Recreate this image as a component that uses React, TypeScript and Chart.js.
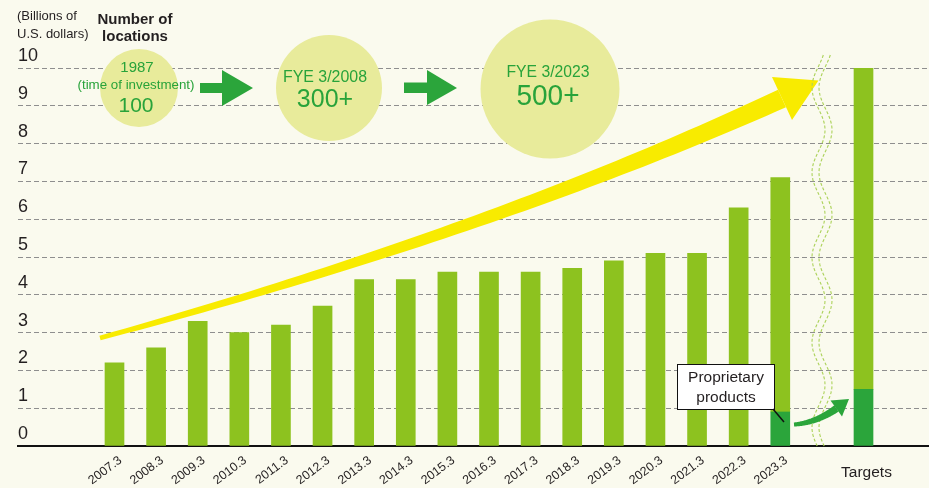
import React, { useEffect, useRef } from 'react';
import { Chart, registerables } from 'chart.js';

Chart.register(...registerables);

// ---------- data ----------
const categories = [
  '2007.3', '2008.3', '2009.3', '2010.3', '2011.3', '2012.3', '2013.3', '2014.3', '2015.3',
  '2016.3', '2017.3', '2018.3', '2019.3', '2020.3', '2021.3', '2022.3', '2023.3', '', 'Targets',
];
const totalSales: (number | null)[] = [
  2.2, 2.6, 3.3, 3.0, 3.2, 3.7, 4.4, 4.4, 4.6, 4.6, 4.6, 4.7, 4.9, 5.1, 5.1, 6.3, 7.1, null, 10.0,
];
const proprietarySales: (number | null)[] = [
  null, null, null, null, null, null, null, null, null, null, null, null, null, null, null, null, 0.9, null, 1.5,
];
const yTickValues = [0, 1, 2, 3, 4, 5, 6, 7, 8, 9, 10];
const unitLabel = ['(Billions of', 'U.S. dollars)'];
const locationsHeader = ['Number of', 'locations'];
const milestoneTitles = ['1987', 'FYE 3/2008', 'FYE 3/2023'];
const milestoneNotes = ['(time of investment)', '', ''];
const milestoneCounts = ['100', '300+', '500+'];
const calloutLines = ['Proprietary', 'products'];
const targetsLabel = 'Targets';

// ---------- styles ----------
const FONT = '"Liberation Sans", Arial, Helvetica, sans-serif';
const BG = '#fafaee';
const LIGHT_GREEN = '#8dc21f';
const DARK_GREEN = '#2ba53b';
const TEXT_GREEN = '#28a33a';
const CIRCLE = '#e8eb9b';
const YELLOW = '#f8eb00';
const WAVE = '#acd25a';
const INK = '#231f20';

function txt(ctx: CanvasRenderingContext2D, s: string, x: number, y: number, font: string, color: string, align: CanvasTextAlign = 'center', maxW?: number, baseline: CanvasTextBaseline = 'middle') {
  ctx.font = font;
  ctx.fillStyle = color;
  ctx.textAlign = align;
  ctx.textBaseline = baseline;
  if (maxW) {
    const w = ctx.measureText(s).width;
    if (w > maxW) {
      ctx.fillText(s, x, y, maxW);
      return;
    }
  }
  ctx.fillText(s, x, y);
}

function taperedCurve(ctx: CanvasRenderingContext2D, p0: number[], c: number[], p2: number[], w0: number, w1: number) {
  const N = 60;
  const top: number[][] = [];
  const bot: number[][] = [];
  for (let i = 0; i <= N; i++) {
    const t = i / N;
    const x = (1 - t) * (1 - t) * p0[0] + 2 * t * (1 - t) * c[0] + t * t * p2[0];
    const y = (1 - t) * (1 - t) * p0[1] + 2 * t * (1 - t) * c[1] + t * t * p2[1];
    const dx = 2 * (1 - t) * (c[0] - p0[0]) + 2 * t * (p2[0] - c[0]);
    const dy = 2 * (1 - t) * (c[1] - p0[1]) + 2 * t * (p2[1] - c[1]);
    const len = Math.hypot(dx, dy) || 1;
    const nx = -dy / len;
    const ny = dx / len;
    const w = w0 + (w1 - w0) * t;
    top.push([x + nx * w, y + ny * w]);
    bot.push([x - nx * w, y - ny * w]);
  }
  ctx.beginPath();
  ctx.moveTo(top[0][0], top[0][1]);
  for (const p of top) ctx.lineTo(p[0], p[1]);
  for (let i = bot.length - 1; i >= 0; i--) ctx.lineTo(bot[i][0], bot[i][1]);
  ctx.closePath();
  ctx.fill();
}

function poly(ctx: CanvasRenderingContext2D, pts: number[][]) {
  ctx.beginPath();
  ctx.moveTo(pts[0][0], pts[0][1]);
  for (const p of pts.slice(1)) ctx.lineTo(p[0], p[1]);
  ctx.closePath();
  ctx.fill();
}

const overlayPlugin = {
  id: 'overlay',
  afterDatasetsDraw(chart: any) {
    const ctx: CanvasRenderingContext2D = chart.ctx;
    const xs = chart.scales.x;
    ctx.save();

    // header texts
    txt(ctx, unitLabel[0], 17, 20, `13px ${FONT}`, INK, 'left', 60, 'alphabetic');
    txt(ctx, unitLabel[1], 17, 37.5, `13px ${FONT}`, INK, 'left', 72, 'alphabetic');
    txt(ctx, locationsHeader[0], 135, 24, `bold 15px ${FONT}`, INK, 'center', 77, 'alphabetic');
    txt(ctx, locationsHeader[1], 135, 40.5, `bold 15px ${FONT}`, INK, 'center', 66, 'alphabetic');

    // circles
    ctx.fillStyle = CIRCLE;
    const circles = [[139, 88, 39], [329, 88, 53], [550, 89, 69.5]];
    for (const [cx, cy, r] of circles) {
      ctx.beginPath();
      ctx.arc(cx, cy, r, 0, Math.PI * 2);
      ctx.fill();
    }
    txt(ctx, milestoneTitles[0], 137, 67.5, `15px ${FONT}`, TEXT_GREEN);
    txt(ctx, milestoneNotes[0], 136, 85.5, `13.5px ${FONT}`, TEXT_GREEN, 'center', 117);
    txt(ctx, milestoneCounts[0], 136, 106, `21px ${FONT}`, TEXT_GREEN);
    txt(ctx, milestoneTitles[1], 325, 77.5, `16px ${FONT}`, TEXT_GREEN, 'center', 84);
    txt(ctx, milestoneCounts[1], 325, 100.5, `25px ${FONT}`, TEXT_GREEN, 'center', 57);
    txt(ctx, milestoneTitles[2], 548, 72.5, `16px ${FONT}`, TEXT_GREEN, 'center', 83);
    txt(ctx, milestoneCounts[2], 548, 97, `29px ${FONT}`, TEXT_GREEN, 'center', 63);

    // green straight arrows
    ctx.fillStyle = DARK_GREEN;
    poly(ctx, [[200, 83], [222, 83], [222, 70], [253, 88], [222, 106], [222, 93], [200, 93]]);
    poly(ctx, [[404, 82.5], [427, 82.5], [427, 70], [457, 88], [427, 105], [427, 93], [404, 93]]);

    // yellow growth arrow
    ctx.fillStyle = YELLOW;
    taperedCurve(ctx, [100, 338], [490, 232], [782, 98.5], 2.3, 9.6);
    poly(ctx, [[772, 77], [818.5, 80.5], [792, 120]]);

    // wavy break lines
    ctx.strokeStyle = WAVE;
    ctx.lineWidth = 1.1;
    ctx.setLineDash([3, 2]);
    for (const off of [0, 7]) {
      ctx.beginPath();
      for (let y = 55; y <= 447; y += 1) {
        const x = 818.5 + off + 6.5 * Math.cos((2 * Math.PI * (y - 45)) / 85);
        if (y === 55) ctx.moveTo(x, y);
        else ctx.lineTo(x, y);
      }
      ctx.stroke();
    }
    ctx.setLineDash([]);

    // callout box
    ctx.fillStyle = '#ffffff';
    ctx.fillRect(677.5, 364.5, 97, 45);
    ctx.strokeStyle = '#111';
    ctx.lineWidth = 1;
    ctx.strokeRect(677.5, 364.5, 97, 45);
    txt(ctx, calloutLines[0], 726, 378, `15.5px ${FONT}`, INK, 'center', 78);
    txt(ctx, calloutLines[1], 726, 397.5, `15.5px ${FONT}`, INK, 'center', 64);
    ctx.lineWidth = 1.5;
    ctx.beginPath();
    ctx.moveTo(773, 409);
    ctx.lineTo(784, 422);
    ctx.stroke();

    // curved green arrow
    ctx.fillStyle = DARK_GREEN;
    taperedCurve(ctx, [794, 424.5], [815.5, 423], [836.5, 408.5], 2, 3.8);
    poly(ctx, [[830.5, 400.5], [849, 399], [842, 416.5]]);

    // Targets label
    txt(ctx, targetsLabel, xs.getPixelForValue(18) + 3, 472.5, `15.5px ${FONT}`, INK);

    ctx.restore();
  },
};

export default function App() {
  const canvasRef = useRef<HTMLCanvasElement | null>(null);

  useEffect(() => {
    document.body.style.margin = '0';
    const canvas = canvasRef.current;
    if (!canvas) return;

    const darkData = proprietarySales.map((v, i) => ({ x: i, y: v }));
    const lightData = totalSales.map((v, i) => ({
      x: i,
      y: v == null ? null : v - (proprietarySales[i] ?? 0),
    }));

    const chart = new Chart(canvas, {
      type: 'bar',
      data: {
        datasets: [
          { label: 'Proprietary products', data: darkData as any, backgroundColor: DARK_GREEN, barThickness: 19, borderWidth: 0 },
          { label: 'Total', data: lightData as any, backgroundColor: LIGHT_GREEN, barThickness: 19, borderWidth: 0 },
        ],
      },
      options: {
        responsive: false,
        animation: false,
        devicePixelRatio: 1,
        layout: { padding: { left: 18, top: 68, right: 0, bottom: 0 } },
        plugins: { legend: { display: false }, tooltip: { enabled: false } },
        scales: {
          x: {
            type: 'linear',
            offset: false,
            stacked: true,
            min: -2.319,
            max: 19.574,
            z: 1,
            grid: { display: false, drawTicks: false, offset: false },
            border: { display: true, color: '#111', width: 2 },
            afterFit: (s: any) => { s.height = 42; s.paddingLeft = 0; s.paddingRight = 0; },
            ticks: {
              stepSize: 1,
              autoSkip: false,
              minRotation: 37,
              maxRotation: 37,
              padding: 7,
              labelOffset: 6,
              color: INK,
              font: { family: FONT, size: 12.5 },
              callback: (v: any) => {
                const n = Number(v);
                return Number.isInteger(n) && n >= 0 && n <= 16 ? categories[n] : '';
              },
            },
          },
          y: {
            stacked: true,
            min: 0,
            max: 10,
            afterFit: (s: any) => { s.width = 0; },
            afterBuildTicks: (s: any) => { s.ticks = yTickValues.map((v) => ({ value: v })); },
            grid: {
              drawTicks: false,
              color: (c: any) => (c.tick && c.tick.value === 0 ? 'rgba(0,0,0,0)' : '#8e8e8e'),
              lineWidth: 1,
            },
            border: { display: false, dash: [5, 3] },
            ticks: {
              mirror: true,
              padding: 0,
              labelOffset: -12,
              color: INK,
              font: { family: FONT, size: 18 },
              callback: (v: any) => String(v),
            },
          },
        },
      },
      plugins: [overlayPlugin],
    });

    return () => chart.destroy();
  }, []);

  return (
    <div style={{ width: 929, height: 488, background: BG, margin: 0, padding: 0 }}>
      <canvas ref={canvasRef} width={929} height={488} style={{ display: 'block' }} />
    </div>
  );
}
